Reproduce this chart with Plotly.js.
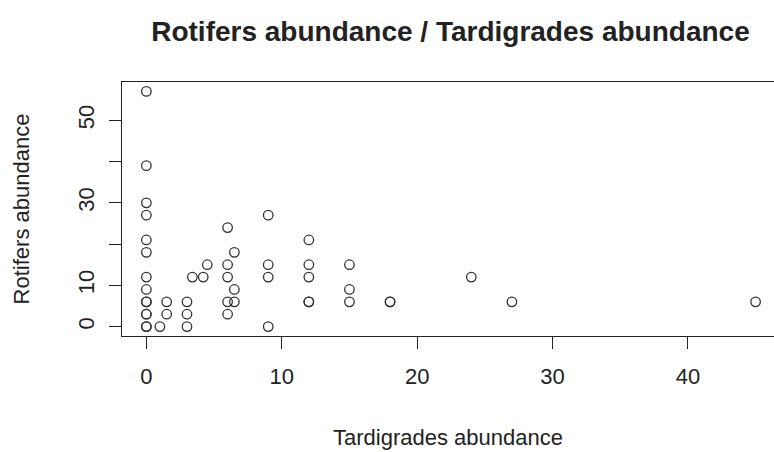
<!DOCTYPE html>
<html>
<head>
<meta charset="utf-8">
<script src="https://cdn.plot.ly/plotly-3.0.1.min.js"></script>
<style>
  html, body { margin: 0; padding: 0; background: #ffffff; }
  #chart { width: 774px; height: 452px; }
</style>
</head>
<body>
<div id="chart"></div>
<script>
// Abundance counts per sample: tardigrades (x) against rotifers (y)
const tardigrades = [
  0, 0, 0, 0, 0, 0, 0, 0, 0, 0, 0, 0, 0, 0,
  1, 1.5, 1.5, 3, 3, 3, 3.4, 4.2, 4.5,
  6, 6.5, 6, 6, 6.5, 6, 6.5, 6,
  9, 9, 9, 9,
  12, 12, 12, 12, 12,
  15, 15, 15,
  18, 18,
  24, 27, 45
];
const rotifers = [
  57, 39, 30, 27, 21, 18, 12, 9, 6, 6, 3, 3, 0, 0,
  0, 6, 3, 6, 3, 0, 12, 12, 15,
  24, 18, 15, 12, 9, 6, 6, 3,
  27, 15, 12, 0,
  21, 15, 12, 6, 6,
  15, 9, 6,
  6, 6,
  12, 6, 6
];

const xTicks = [0, 10, 20, 30, 40];
const xTickLabels = ['0', '10', '20', '30', '40'];
const yTicks = [0, 10, 20, 30, 40, 50];
const yTickLabels = ['0', '10', '', '30', '', '50'];

const ink = '#222222';
const font = 'Liberation Sans, Arial, Helvetica, sans-serif';

const trace = {
  type: 'scatter',
  mode: 'markers',
  x: tardigrades,
  y: rotifers,
  marker: {
    symbol: 'circle-open',
    size: 9.5,
    color: '#333333',
    line: { width: 1.3, color: '#333333' }
  },
  hoverinfo: 'x+y'
};

const layout = {
  width: 774,
  height: 452,
  paper_bgcolor: '#ffffff',
  plot_bgcolor: '#ffffff',
  showlegend: false,
  margin: { l: 122, r: 0, t: 82, b: 116 },
  font: { family: font, color: ink, size: 22 },
  title: {
    text: '<b>Rotifers abundance / Tardigrades abundance</b>',
    font: { family: font, size: 28, color: ink },
    xref: 'container', yref: 'container',
    x: 0.582, xanchor: 'center',
    y: 0.931, yanchor: 'middle'
  },
  xaxis: {
    range: [-1.8, 46.36],
    tickmode: 'array',
    tickvals: xTicks,
    ticktext: xTickLabels,
    ticks: 'outside', ticklen: 12, tickwidth: 1, tickcolor: ink,
    ticklabelstandoff: 9,
    showline: true, linecolor: ink, linewidth: 1, mirror: true,
    showgrid: false, zeroline: false,
    tickfont: { family: font, size: 22, color: ink },
    title: { text: 'Tardigrades abundance', standoff: 41,
             font: { family: font, size: 22, color: ink } }
  },
  yaxis: {
    range: [-2.28, 59.28],
    tickmode: 'array',
    tickvals: yTicks,
    ticktext: yTickLabels,
    tickangle: -90,
    ticks: 'outside', ticklen: 12, tickwidth: 1, tickcolor: ink,
    ticklabelstandoff: 6,
    showline: true, linecolor: ink, linewidth: 1, mirror: false,
    showgrid: false, zeroline: false,
    tickfont: { family: font, size: 22, color: ink },
    title: { text: 'Rotifers abundance', standoff: 38,
             font: { family: font, size: 22, color: ink } }
  }
};

Plotly.newPlot('chart', [trace], layout, { displayModeBar: false, staticPlot: true });
</script>
</body>
</html>
